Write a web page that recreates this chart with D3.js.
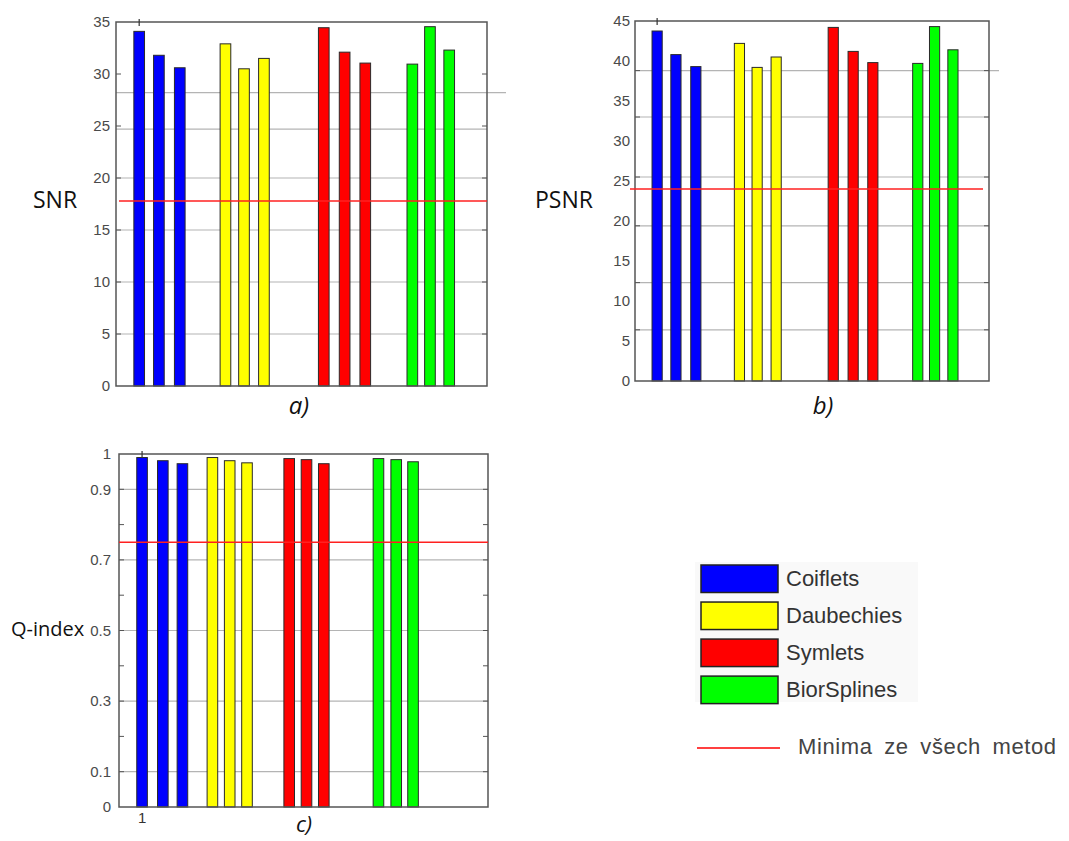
<!DOCTYPE html>
<html><head><meta charset="utf-8">
<script src="https://cdn.jsdelivr.net/npm/d3@7"></script>
<style>body{margin:0;background:#fff}svg{display:block}</style>
</head><body>
<svg id="c" width="1069" height="841"></svg>
<script>
// ---- data ----
const groups = ["Coiflets", "Daubechies", "Symlets", "BiorSplines"];
const groupColors = ["#0000ff", "#ffff00", "#ff0000", "#00ff00"];
const barGroup = [0,0,0, 1,1,1, 2,2,2, 3,3,3];
const posAB = [1,1.85,2.75, 4.72,5.52,6.38, 8.96,9.86,10.75, 12.78,13.54,14.37];
const posC  = [1,1.9,2.75, 4.05,4.8,5.55, 7.38,8.13,8.88, 11.25,12.02,12.75];
const snr  = [34.1,31.8,30.6, 32.9,30.5,31.5, 34.45,32.1,31.05, 30.95,34.55,32.3];
const psnr = [43.75,40.8,39.3, 42.2,39.2,40.5, 44.2,41.2,39.8, 39.7,44.3,41.4];
const qidx = [0.99,0.981,0.9725, 0.99,0.981,0.975, 0.987,0.984,0.9725, 0.987,0.984,0.978];
const minima = {snr: 17.8, psnr: 24, q: 0.75};
const snrTicks  = [0,5,10,15,20,25,30,35];
const psnrTicks = [0,5,10,15,20,25,30,35,40,45];
const qTicks    = [0,0.1,0.3,0.5,0.7,0.9,1];
const snrGrid  = [5,10,15,20,24.7,28.2];
const psnrGrid = [6.4,12.3,19.4,25.5,33,38.8];
const qGrid    = [0.1,0.3,0.5,0.7,0.9];
const qMinorTicks = [0.1,0.2,0.3,0.4,0.5,0.6,0.7,0.8,0.9];
const legendMinText = "Minima ze všech metod";

const svg = d3.select("#c");

function panel(o) {
  const g = svg.append("g");
  const x = d3.scaleLinear().domain([0,16]).range([o.left, o.right]);
  const y = d3.scaleLinear().domain([0, o.max]).range([o.bottom, o.top]);
  const bw = x(0.46) - x(0);
  g.selectAll(".grid").data(o.grid).join("line")
    .attr("x1", o.left).attr("x2", d => d === o.extGrid ? o.extRight : o.right)
    .attr("y1", d => y(d)).attr("y2", d => y(d))
    .attr("stroke", "#b4b4b4").attr("stroke-width", 1.2);
  g.selectAll(".bar").data(o.values).join("rect")
    .attr("x", (d,i) => x(o.pos[i]) - bw/2)
    .attr("width", bw)
    .attr("y", d => y(d))
    .attr("height", d => y(0) - y(d))
    .attr("fill", (d,i) => groupColors[barGroup[i]])
    .attr("stroke", "#2a2a2a").attr("stroke-width", 1);
  g.append("rect").attr("x", o.left).attr("y", o.top)
    .attr("width", o.right - o.left).attr("height", o.bottom - o.top)
    .attr("fill", "none").attr("stroke", "#555").attr("stroke-width", 1.5);
  const ax = d3.axisLeft(y).tickValues(o.ticks).tickSize(0).tickPadding(0)
    .tickFormat(d => d3.format("")(d));
  const ag = g.append("g").attr("transform", `translate(${o.left - o.labelGap},0)`).call(ax);
  ag.select(".domain").remove();
  ag.selectAll("text").attr("font-family", "Liberation Sans, Arial, sans-serif")
    .attr("font-size", 15).attr("fill", "#4a4a4a");
  const tm = o.tickMarks;
  g.selectAll(".tl").data(tm).join("line")
    .attr("x1", o.left).attr("x2", o.left + 5)
    .attr("y1", d => y(d)).attr("y2", d => y(d)).attr("stroke", "#555");
  g.selectAll(".tr").data(tm).join("line")
    .attr("x1", o.right - 5).attr("x2", o.right)
    .attr("y1", d => y(d)).attr("y2", d => y(d)).attr("stroke", "#555");
  g.append("line").attr("x1", x(o.pos[0])).attr("x2", x(o.pos[0]))
    .attr("y1", o.top - 3).attr("y2", o.top + 4).attr("stroke", "#333").attr("stroke-width", 1.2);
  g.append("line").attr("x1", o.minLeft).attr("x2", o.minRight)
    .attr("y1", y(o.min)).attr("y2", y(o.min))
    .attr("stroke", "#ff2020").attr("stroke-width", 1.5);
  g.append("text").attr("x", o.titleX).attr("y", o.titleY)
    .attr("font-family", "Open Sans, sans-serif").attr("font-size", o.titleSize)
    .attr("fill", "#111").attr("dominant-baseline", "middle").text(o.title);
  g.append("text").attr("x", o.capX).attr("y", o.capY)
    .attr("font-family", "Open Sans, sans-serif").attr("font-style", "italic")
    .attr("font-size", o.capSize || 24).attr("fill", "#111").attr("text-anchor", "middle")
    .attr("dominant-baseline", "middle").text(o.cap);
  return {g, x, y};
}

panel({left:116, right:487, top:22, bottom:386, max:35, values:snr, pos:posAB,
  ticks:snrTicks, tickMarks:snrTicks.slice(1,-1), grid:snrGrid, extGrid:28.2, extRight:506,
  min:minima.snr, minLeft:119, minRight:487, labelGap:6,
  title:"SNR", titleX:33, titleY:202, titleSize:23, cap:"a)", capX:299, capY:408});

panel({left:635, right:989, top:21, bottom:381, max:45, values:psnr, pos:posAB,
  ticks:psnrTicks, tickMarks:psnrGrid, grid:psnrGrid, extGrid:38.8, extRight:999,
  min:minima.psnr, minLeft:630, minRight:983, labelGap:5,
  title:"PSNR", titleX:535, titleY:202, titleSize:23, cap:"b)", capX:823, capY:408});

const pc = panel({left:119, right:488, top:454, bottom:807, max:1, values:qidx, pos:posC,
  ticks:qTicks, tickMarks:qMinorTicks, grid:qGrid, extGrid:null, extRight:488,
  min:minima.q, minLeft:119, minRight:488, labelGap:8,
  title:"Q-index", titleX:11, titleY:631, titleSize:20, cap:"c)", capX:304, capY:826, capSize:22});
svg.append("text").attr("x", pc.x(posC[0])).attr("y", 819)
  .attr("font-family", "Liberation Sans, Arial, sans-serif").attr("font-size", 15)
  .attr("fill", "#333").attr("text-anchor", "middle").attr("dominant-baseline", "middle").text("1");

// ---- legend ----
const lg = svg.append("g");
lg.append("rect").attr("x", 695).attr("y", 562).attr("width", 223).attr("height", 140).attr("fill", "#f9f9f9");
const ly = d3.scaleBand().domain(groups).range([565, 705]).paddingInner(0.22).paddingOuter(0);
lg.selectAll(".sw").data(groups).join("rect")
  .attr("x", 701).attr("y", d => ly(d)).attr("width", 77).attr("height", 27.5)
  .attr("fill", (d,i) => groupColors[i]).attr("stroke", "#222").attr("stroke-width", 1.5);
lg.selectAll(".lt").data(groups).join("text")
  .attr("x", 786).attr("y", d => ly(d) + 15)
  .attr("font-family", "Liberation Sans, Arial, sans-serif").attr("font-size", 22)
  .attr("fill", "#333").attr("dominant-baseline", "middle").text(d => d);
lg.append("line").attr("x1", 697).attr("x2", 780).attr("y1", 748).attr("y2", 748)
  .attr("stroke", "#ff0000").attr("stroke-width", 1.5);
lg.append("text").attr("x", 798).attr("y", 748)
  .attr("font-family", "Liberation Sans, Arial, sans-serif").attr("font-size", 22)
  .attr("fill", "#444").attr("dominant-baseline", "middle")
  .attr("letter-spacing", 0.6).attr("word-spacing", 5).text(legendMinText);
</script>
</body></html>
